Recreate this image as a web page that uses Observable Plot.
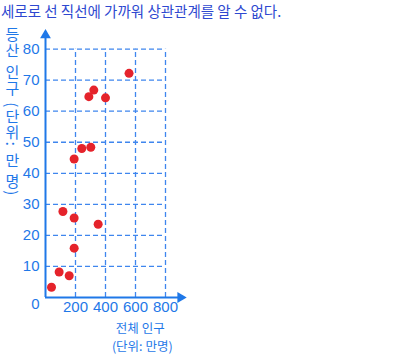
<!DOCTYPE html>
<html><head><meta charset="utf-8">
<script src="https://cdn.jsdelivr.net/npm/d3@7"></script>
<script src="https://cdn.jsdelivr.net/npm/@observablehq/plot@0.6"></script>
<style>
body{margin:0;background:#fff;width:400px;height:354px;overflow:hidden;font-family:"Noto Sans CJK KR",sans-serif}
#title{height:20px;font-size:14.5px;line-height:21px;color:#2e48d0;padding-left:1px;white-space:nowrap;overflow:visible}
#chart svg{display:block}
</style></head><body>
<div id="title"></div>
<div id="chart"></div>
<script>
const titleText = "세로로 선 직선에 가까워 상관관계를 알 수 없다.";
const xLabelLines = ["전체 인구", "(단위: 만명)"];
const yLabelText = "등산 인구 (단위: 만 명)";
const totalPop  = [557, 322, 289, 400, 242, 302, 191, 116, 191, 351, 191, 91, 158, 40];
const hikingPop = [72.2, 66.8, 64.7, 64.3, 48.0, 48.4, 44.6, 27.7, 25.6, 23.6, 15.9, 8.2, 7.0, 3.3];
const xTicks = [200, 400, 600, 800];
const yTicks = [10, 20, 30, 40, 50, 60, 70, 80];
const origin = [0];
const xAxisEnd = 900;
const yAxisEnd = 84.5;

const axisColor = "#1f78e8";
const gridColor = "#3f86ee";
const dotColor = "#e5232b";

document.getElementById("title").textContent = titleText;
const points = totalPop.map((x, i) => ({x, y: hikingPop[i]}));
const xMax = d3.max(xTicks), yMax = d3.max(yTicks);

const chart = Plot.plot({
  width: 400,
  height: 334,
  marginLeft: 45,
  marginRight: 400 - 45 - 930 * 0.15,
  marginTop: 10,
  marginBottom: 57,
  x: {domain: [0, 930]},
  y: {domain: [0, 86]},
  style: {fontFamily: "'Liberation Sans', Arial, sans-serif", fontSize: "14px", background: "white"},
  marks: [
    Plot.ruleY(yTicks, {x1: 0, x2: xMax, stroke: gridColor, strokeWidth: 1.3, strokeDasharray: "5,3"}),
    Plot.ruleX(xTicks, {y1: 0, y2: yMax, stroke: gridColor, strokeWidth: 1.3, strokeDasharray: "5,3"}),
    Plot.ruleY(origin, {x1: 0, x2: xAxisEnd, stroke: axisColor, strokeWidth: 2}),
    Plot.ruleX(origin, {y1: 0, y2: yAxisEnd, stroke: axisColor, strokeWidth: 2}),
    Plot.dot(origin, {x: xAxisEnd, y: 0, symbol: "triangle", rotate: 90, r: 4, fill: axisColor}),
    Plot.dot(origin, {x: 0, y: yAxisEnd, symbol: "triangle", r: 4, fill: axisColor}),
    Plot.axisY(yTicks, {tickSize: 0, tickPadding: 6, color: axisColor, fontSize: 15, label: null}),
    Plot.axisX(xTicks, {tickSize: 0, tickPadding: 4, color: axisColor, fontSize: 15, label: null}),
    Plot.text(origin, {x: d => d, y: d => d, text: d => String(d), dx: -6, dy: 7, textAnchor: "end", fill: axisColor, fontSize: 15}),
    Plot.dot(points, {x: "x", y: "y", r: 4.5, fill: dotColor}),
    Plot.text([xLabelLines[0]], {frameAnchor: "bottom", dx: 25, dy: 31.5, lineAnchor: "middle", fill: axisColor, fontSize: 12.5, fontFamily: "'Noto Sans CJK KR'"}),
    Plot.text([xLabelLines[1]], {frameAnchor: "bottom", dx: 27, dy: 49.5, lineAnchor: "middle", fill: axisColor, fontSize: 12.5, fontFamily: "'Noto Sans CJK KR'"}),
    Plot.text([yLabelText], {frameAnchor: "top-left", dx: -33, dy: -4, lineAnchor: "bottom", textAnchor: "start", fill: axisColor, fontSize: 15, fontFamily: "'Noto Sans CJK KR'"})
  ]
});
document.getElementById("chart").appendChild(chart);
d3.select(chart).selectAll("text").filter(function(){ return this.textContent === yLabelText; })
  .attr("dy", null)
  .style("writing-mode", "vertical-rl")
  .style("text-orientation", "mixed")
  .style("letter-spacing", "1.5px");
</script>
</body></html>
